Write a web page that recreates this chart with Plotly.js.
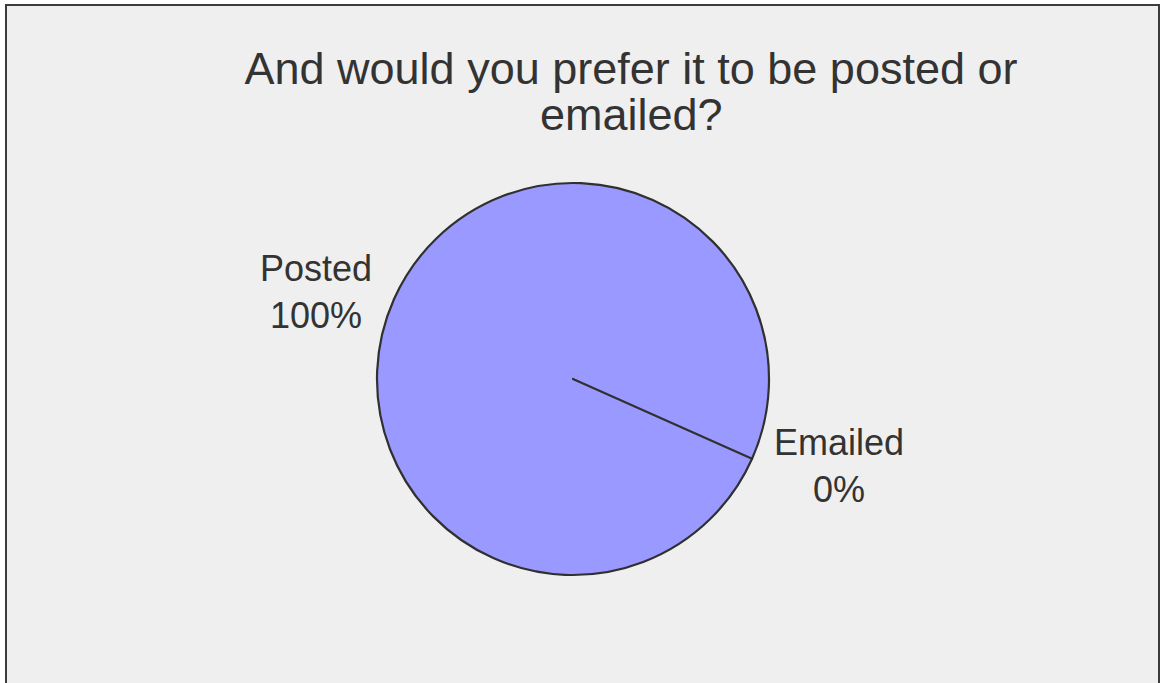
<!DOCTYPE html>
<html>
<head>
<meta charset="utf-8">
<script src="https://cdn.plot.ly/plotly-3.0.1.min.js"></script>
<style>
  html, body { margin:0; padding:0; background:#ffffff; width:1160px; height:683px; overflow:hidden; }
  #frame { position:absolute; left:5px; top:4px; width:1151px; height:720px; border:2px solid #3c3c3c; background:#efefef; }
  #chart { position:absolute; left:0; top:0; width:1160px; height:683px; }
</style>
</head>
<body>
<div id="frame"></div>
<div id="chart"></div>
<script>
const titleLine1 = "And would you prefer it to be posted or";
const titleLine2 = "emailed?";
const categories = ["Posted", "Emailed"];
const values = [100, 0];
const sliceColors = ["#9999ff", "#9999ff"];

const W = 1160, H = 683;
const cx = 573, cy = 379, r = 196;

const trace = {
  type: "pie",
  labels: categories,
  values: values,
  sort: false,
  direction: "counterclockwise",
  rotation: 114,
  textinfo: "label+percent",
  textposition: "outside",
  texttemplate: "%{label}<br>%{percent:.0%}",
  marker: { colors: sliceColors, line: { color: "#303030", width: 2.2 } },
  outsidetextfont: { family: "Liberation Sans, Arial, sans-serif", size: 36, color: "#333333" },
  domain: { x: [(cx - r) / W, (cx + r) / W], y: [(H - cy - r) / H, (H - cy + r) / H] },
  showlegend: false,
  hoverinfo: "label+percent"
};

const layout = {
  width: W, height: H,
  margin: { l: 0, r: 0, t: 0, b: 0 },
  paper_bgcolor: "rgba(0,0,0,0)",
  plot_bgcolor: "rgba(0,0,0,0)",
  showlegend: false,
  title: {
    text: titleLine1,
    font: { family: "Liberation Sans, Arial, sans-serif", size: 45, color: "#333333" },
    x: 631 / W, xanchor: "center", xref: "container",
    y: 1 - 68 / H, yanchor: "middle", yref: "container"
  },
  annotations: [{
    text: titleLine2, showarrow: false,
    xref: "paper", yref: "paper",
    x: 631 / W, xanchor: "center",
    y: 1 - 114 / H, yanchor: "middle",
    font: { family: "Liberation Sans, Arial, sans-serif", size: 45, color: "#333333" }
  }]
};

Plotly.newPlot("chart", [trace], layout, { displayModeBar: false, staticPlot: true });
</script>
</body>
</html>
